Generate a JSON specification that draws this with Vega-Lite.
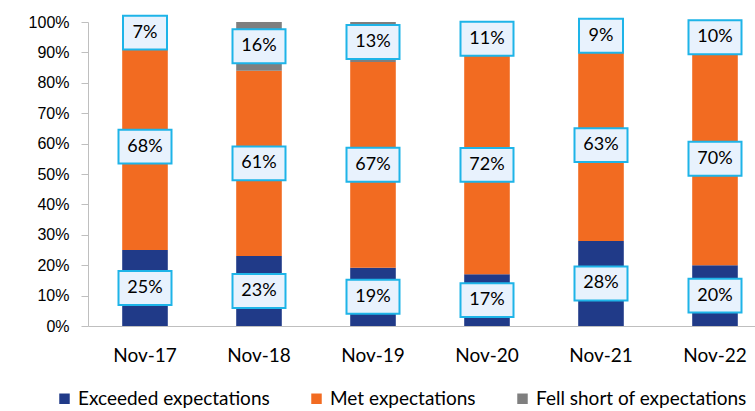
{
  "$schema": "https://vega.github.io/schema/vega-lite/v6.json",
  "autosize": {"type": "none"},
  "padding": {"left": 88, "top": 22, "right": 0, "bottom": 85},
  "width": 667,
  "height": 304,
  "config": {
    "view": {"stroke": null},
    "font": "Lato",
    "axisY": {"title": null, "format": ".0%", "labelOverlap": false, "grid": false, "labelFont": "Liberation Sans", "labelFontSize": 16, "labelColor": "#000000", "tickColor": "#BFBFBF", "domainColor": "#BFBFBF", "tickSize": 7, "labelPadding": 12}
  },
  "data": {
    "values": [
      {"month": "Nov-17", "type": "Exceeded expectations", "idx": 1, "p": 0.25},
      {"month": "Nov-17", "type": "Met expectations", "idx": 2, "p": 0.68},
      {"month": "Nov-17", "type": "Fell short of expectations", "idx": 3, "p": 0.07},
      {"month": "Nov-18", "type": "Exceeded expectations", "idx": 1, "p": 0.23},
      {"month": "Nov-18", "type": "Met expectations", "idx": 2, "p": 0.61},
      {"month": "Nov-18", "type": "Fell short of expectations", "idx": 3, "p": 0.16},
      {"month": "Nov-19", "type": "Exceeded expectations", "idx": 1, "p": 0.19},
      {"month": "Nov-19", "type": "Met expectations", "idx": 2, "p": 0.67},
      {"month": "Nov-19", "type": "Fell short of expectations", "idx": 3, "p": 0.13},
      {"month": "Nov-20", "type": "Exceeded expectations", "idx": 1, "p": 0.17},
      {"month": "Nov-20", "type": "Met expectations", "idx": 2, "p": 0.72},
      {"month": "Nov-20", "type": "Fell short of expectations", "idx": 3, "p": 0.11},
      {"month": "Nov-21", "type": "Exceeded expectations", "idx": 1, "p": 0.28},
      {"month": "Nov-21", "type": "Met expectations", "idx": 2, "p": 0.63},
      {"month": "Nov-21", "type": "Fell short of expectations", "idx": 3, "p": 0.09},
      {"month": "Nov-22", "type": "Exceeded expectations", "idx": 1, "p": 0.20},
      {"month": "Nov-22", "type": "Met expectations", "idx": 2, "p": 0.70},
      {"month": "Nov-22", "type": "Fell short of expectations", "idx": 3, "p": 0.10}
    ]
  },
  "encoding": {
    "x": {
      "field": "month", "type": "nominal", "sort": null,
      "scale": {"range": [0, 684], "paddingInner": 0.6, "paddingOuter": 0.3},
      "axis": {"title": null, "labelAngle": 0, "ticks": false, "domainColor": "#BFBFBF", "labelFontSize": 19, "labelPadding": 20, "labelColor": "#000000", "labelFont": "Lato"}
    }
  },
  "layer": [
    {
      "mark": {"type": "bar"},
      "encoding": {
        "y": {
          "field": "p", "type": "quantitative", "stack": "normalize",
          "scale": {"domain": [0, 1]},
          "axis": {"values": [0, 0.1, 0.2, 0.3, 0.4, 0.5, 0.6, 0.7, 0.8, 0.9, 1]}
        },
        "color": {
          "field": "type", "type": "nominal",
          "sort": ["Exceeded expectations", "Met expectations", "Fell short of expectations"],
          "scale": {"domain": ["Exceeded expectations", "Met expectations", "Fell short of expectations"], "range": ["#203A88", "#F26B21", "#7F7F7F"]},
          "legend": {"title": null, "orient": "none", "legendX": -33, "legendY": 367, "direction": "horizontal", "symbolType": "square", "symbolSize": 110, "symbolStrokeWidth": 0, "labelFontSize": 19, "labelLimit": 0, "labelFont": "Lato", "labelColor": "#000000", "columnPadding": 37, "labelOffset": 4}
        },
        "order": {"field": "idx"}
      }
    },
    {
      "mark": {"type": "point", "filled": true, "fill": "#E8F2FD", "stroke": "#1EB4E8", "strokeWidth": 2, "opacity": 1},
      "encoding": {
        "y": {"field": "p", "type": "quantitative", "stack": "normalize", "bandPosition": 0.5, "axis": {"values": [0, 0.1, 0.2, 0.3, 0.4, 0.5, 0.6, 0.7, 0.8, 0.9, 1]}},
        "detail": {"field": "type"},
        "order": {"field": "idx"},
        "shape": {"condition": {"test": "datum.p < 0.1", "value": "M-0.83,-0.64L0.83,-0.64L0.83,0.64L-0.83,0.64Z"}, "value": "M-1,-0.64L1,-0.64L1,0.64L-1,0.64Z"},
        "size": {"value": 2809}
      }
    },
    {
      "mark": {"type": "text", "font": "Lato", "fontSize": 18, "color": "#000000", "baseline": "middle", "align": "center"},
      "encoding": {
        "y": {"field": "p", "type": "quantitative", "stack": "normalize", "bandPosition": 0.5, "axis": {"values": [0, 0.1, 0.2, 0.3, 0.4, 0.5, 0.6, 0.7, 0.8, 0.9, 1]}},
        "detail": {"field": "type"},
        "order": {"field": "idx"},
        "text": {"field": "p", "type": "quantitative", "format": ".0%"}
      }
    }
  ]
}
